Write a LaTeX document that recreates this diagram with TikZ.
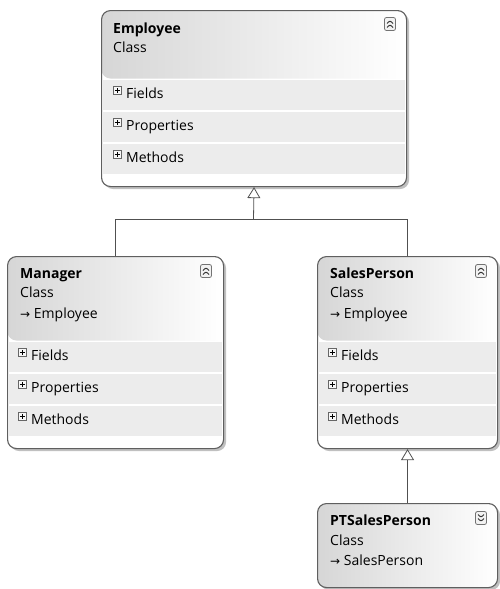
\documentclass[tikz,border=0pt]{standalone}
\usepackage{fontspec}
\setmainfont{Open Sans}
\newfontfamily\symfont{DejaVu Sans}
\usetikzlibrary{positioning,arrows.meta,shadows}
\definecolor{boxline}{HTML}{5F5F5F}
\definecolor{hdrgray}{HTML}{D6D6D6}
\definecolor{rowgray}{HTML}{ECECEC}
\definecolor{linkgray}{HTML}{505050}
\newcommand\hdrh{68pt}
\newcommand\inharrow{{\symfont\fontsize{12}{12}\selectfont →}}
\tikzset{
  % --- class shapes (header shading is drawn inside the box) ---
  hdr/.code={\def\hdrh{#1}},
  classbox/.style={draw=boxline, line width=1.1pt, rounded corners=9pt,
                   fill=white, anchor=north west, inner sep=0pt,
                   drop shadow={shadow xshift=2.5pt, shadow yshift=-2.5pt,
                                fill=black!45, opacity=0.55},
                   path picture={
                     \shade[left color=hdrgray, right color=white]
                       (path picture bounding box.north west) rectangle
                       ([yshift=-\hdrh]path picture bounding box.north east);}},
  classname/.style={anchor=base west, inner sep=0pt,
                    font=\fontsize{14}{16}\selectfont\bfseries},
  classinfo/.style={anchor=base west, inner sep=0pt},
  % --- compartments ---
  plusbox/.style={draw=gray!80!black, fill=gray!6, minimum size=8pt,
                  inner sep=0pt,
                  path picture={\draw[black, line width=0.8pt]
                    ([xshift=1.6pt]path picture bounding box.west) --
                    ([xshift=-1.6pt]path picture bounding box.east)
                    ([yshift=-1.6pt]path picture bounding box.north) --
                    ([yshift=1.6pt]path picture bounding box.south);}},
  rowtext/.style={anchor=west, inner sep=0pt, text height=10pt, text depth=3pt,
                  label={[plusbox, xshift=-4.5pt, yshift=4.5pt]left:{}}},
  % --- collapse / expand buttons ---
  collapse/.style={draw=gray!90!black, fill=gray!10, line width=0.8pt,
                   rounded corners=2pt, minimum width=11pt, minimum height=13pt,
                   inner sep=0pt,
                   path picture={\draw[line width=1pt, black!80]
                     ([shift={(-3pt,0.5pt)}]path picture bounding box.center)
                       -- ++(3pt,3pt) -- ++(3pt,-3pt)
                     ([shift={(-3pt,-3.5pt)}]path picture bounding box.center)
                       -- ++(3pt,3pt) -- ++(3pt,-3pt);}},
  expand/.style={collapse,
                 path picture={\draw[line width=1pt, black!80]
                   ([shift={(-3pt,3.5pt)}]path picture bounding box.center)
                     -- ++(3pt,-3pt) -- ++(3pt,3pt)
                   ([shift={(-3pt,-0.5pt)}]path picture bounding box.center)
                     -- ++(3pt,-3pt) -- ++(3pt,3pt);}},
  % --- inheritance ---
  genline/.style={draw=linkgray, line width=0.8pt},
  generalize/.style={genline,
                     -{Triangle[open, fill=white, length=11pt, width=13pt]}},
}

\begin{document}
\begin{tikzpicture}[x=1pt, y=-1pt, font=\fontsize{14}{16}\selectfont]
  \useasboundingbox (0,0) rectangle (500,589);

  % --- Employee (base class) ---
  \node[classbox, hdr=68pt, minimum width=305pt, minimum height=176pt] (emp) at (101,10) {};
  \node[collapse] (emp-btn) at (390,24) {};
  \node[classname] (emp-name) at (113,33) {Employee};
  \node[classinfo] (emp-kind) at (113,52) {Class};
  \fill[rowgray] (102,80) rectangle (405,110);
  \fill[rowgray] (102,112) rectangle (405,142);
  \fill[rowgray] (102,144) rectangle (405,174);
  \node[rowtext] (emp-fields) at (126,95) {Fields};
  \node[rowtext] (emp-props) at (126,127) {Properties};
  \node[rowtext] (emp-meth) at (126,159) {Methods};

  % --- Manager ---
  \node[classbox, hdr=84pt, minimum width=216pt, minimum height=192pt] (mgr) at (7,256) {};
  \node[collapse] (mgr-btn) at (206,271) {};
  \node[classname] (mgr-name) at (20,278) {Manager};
  \node[classinfo] (mgr-kind) at (20,297) {Class};
  \node[classinfo] (mgr-base) at (20,318) {\inharrow\ Employee};
  \fill[rowgray] (8,342) rectangle (222,372);
  \fill[rowgray] (8,374) rectangle (222,404);
  \fill[rowgray] (8,406) rectangle (222,436);
  \node[rowtext] (mgr-fields) at (31,357) {Fields};
  \node[rowtext] (mgr-props) at (31,389) {Properties};
  \node[rowtext] (mgr-meth) at (31,421) {Methods};

  % --- SalesPerson ---
  \node[classbox, hdr=84pt, minimum width=180pt, minimum height=192pt] (sp) at (317,256) {};
  \node[collapse] (sp-btn) at (481,271) {};
  \node[classname] (sp-name) at (330,278) {SalesPerson};
  \node[classinfo] (sp-kind) at (330,297) {Class};
  \node[classinfo] (sp-base) at (330,318) {\inharrow\ Employee};
  \fill[rowgray] (318,342) rectangle (496,372);
  \fill[rowgray] (318,374) rectangle (496,404);
  \fill[rowgray] (318,406) rectangle (496,436);
  \node[rowtext] (sp-fields) at (341,357) {Fields};
  \node[rowtext] (sp-props) at (341,389) {Properties};
  \node[rowtext] (sp-meth) at (341,421) {Methods};

  % --- PTSalesPerson (collapsed) ---
  \node[classbox, hdr=84pt, minimum width=180pt, minimum height=84pt] (pt) at (317,503) {};
  \node[expand] (pt-btn) at (481,518) {};
  \node[classname] (pt-name) at (330,525) {PTSalesPerson};
  \node[classinfo] (pt-kind) at (330,545) {Class};
  \node[classinfo] (pt-base) at (330,565) {\inharrow\ SalesPerson};

  % --- generalization links ---
  \coordinate (join) at (253.5,219);
  \draw[genline] (mgr.north) |- (join);
  \draw[genline] (sp.north) |- (join);
  \draw[generalize] (join) -- (emp.south);
  \draw[generalize] (pt.north) -- (sp.south);
\end{tikzpicture}
\end{document}
